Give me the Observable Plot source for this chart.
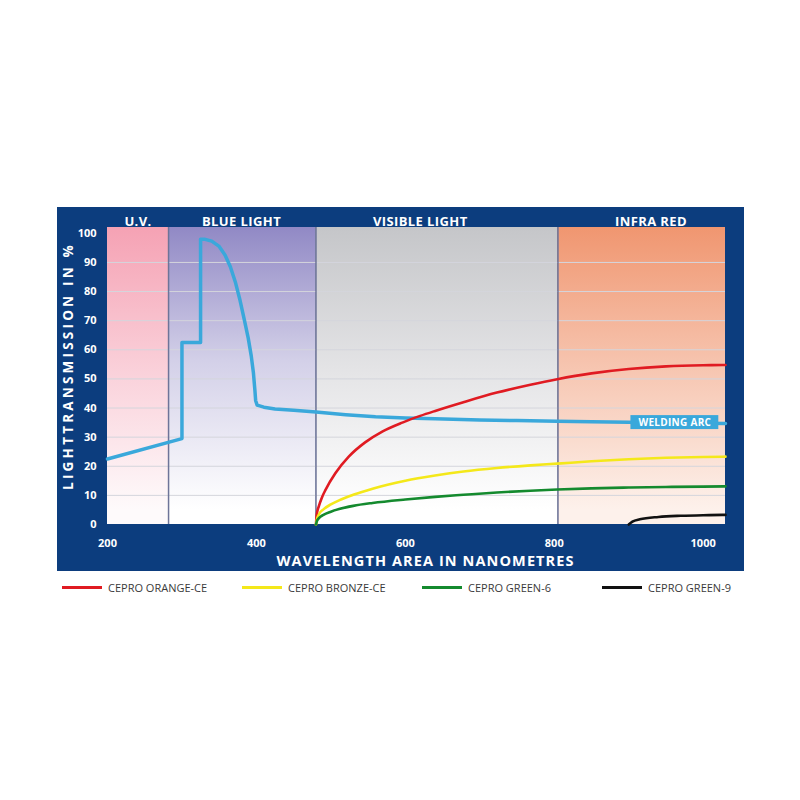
<!DOCTYPE html>
<html>
<head>
<meta charset="utf-8">
<script src="https://cdn.jsdelivr.net/npm/d3@7"></script>
<script src="https://cdn.jsdelivr.net/npm/@observablehq/plot@0.6"></script>
<style>
  html, body { margin: 0; padding: 0; background: #ffffff; width: 800px; height: 800px; overflow: hidden; }
  #frame { position: absolute; left: 57px; top: 207px; width: 687px; height: 364px; background: #0c3d7e; }
  #legend { position: absolute; left: 62px; top: 578px; width: 720px; height: 18px; display: flex;
            font-family: "Open Sans", sans-serif; font-size: 11px; color: #3a3a3a; }
  .item { width: 183px; display: flex; align-items: center; white-space: nowrap; }
  .sw { width: 40px; height: 3px; margin-right: 6px; }
</style>
</head>
<body>
<div id="frame"></div>
<div id="legend"></div>
<script>
// ---- data ----
const headerLabels = ["U.V.", "BLUE LIGHT", "VISIBLE LIGHT", "INFRA RED"];
const headerAt = [241, 380, 620, 930];
const bandFrom = [200, 282, 480, 805];
const bandTo = [282, 480, 805, 1030];
const bandTop = ["#f5a2b4", "#9189c5", "#c5c6c9", "#f09670"];
const bandBottom = ["#fefafb", "#ffffff", "#ffffff", "#fdf1eb"];
const boundaries = [282, 480, 805];
const yTicks = [0, 10, 20, 30, 40, 50, 60, 70, 80, 90, 100];
const xTicks = [200, 400, 600, 800, 1000];
const yTitle = "LIGHTTRANSMISSION IN %";
const xTitle = "WAVELENGTH AREA IN NANOMETRES";

const arcWave = [200, 300, 300, 325, 325, 330, 340, 350, 358, 365, 372, 378, 384, 389, 393, 396, 398, 399, 401, 410, 425, 450, 480, 520, 560, 600, 640, 700, 750, 804, 850, 900, 950, 1000, 1030];
const arcValue = [22.5, 29.5, 62.5, 62.5, 98, 98, 97.3, 95.5, 92.5, 88.5, 83, 77, 70, 64, 58, 52, 46, 42.5, 41, 40.3, 39.7, 39.2, 38.6, 37.7, 37.0, 36.6, 36.3, 35.9, 35.7, 35.5, 35.3, 35.1, 34.9, 34.8, 34.7];

const orangeWave = [480, 481, 484, 488, 493, 506, 524, 546, 569, 596, 620, 640, 678, 723, 768, 804, 850, 900, 950, 1000, 1030];
const orangeValue = [0, 3.4, 6.4, 9.3, 12, 17.6, 23.3, 28.2, 31.9, 35.0, 37.3, 39.0, 42.0, 45.3, 48.0, 49.9, 51.9, 53.4, 54.3, 54.7, 54.8];

const bronzeWave = [480, 481, 484, 490, 500, 511, 530, 556, 600, 640, 678, 723, 768, 804, 850, 900, 950, 1000, 1030];
const bronzeValue = [0, 1.5, 3.5, 5.2, 6.9, 8.3, 10.2, 12.3, 15, 16.8, 18.2, 19.4, 20.3, 20.9, 21.7, 22.4, 22.9, 23.2, 23.3];

const green6Wave = [480, 481, 484, 490, 500, 511, 530, 556, 600, 640, 678, 723, 768, 804, 850, 900, 950, 1000, 1030];
const green6Value = [0, 1, 2.2, 3.3, 4.4, 5.3, 6.4, 7.4, 8.6, 9.5, 10.2, 11.0, 11.6, 12.0, 12.4, 12.7, 12.9, 13.0, 13.1];

const green9Wave = [900, 905, 915, 940, 970, 1000, 1030];
const green9Value = [0, 1, 1.8, 2.6, 3, 3.2, 3.3];

const seriesNames = ["CEPRO ORANGE-CE", "CEPRO BRONZE-CE", "CEPRO GREEN-6", "CEPRO GREEN-9"];
const seriesColors = ["#e01b22", "#f4e81a", "#148a2e", "#111111"];
const arcColor = "#3aa8db";
const arcLabel = [{text: "WELDING ARC", from: 903, to: 1021, low: 32.6, high: 37.4, at: 962, value: 35}];

// ---- build tables ----
const zip = (w, v) => w.map((x, i) => ({x, y: v[i]}));
const arc = zip(arcWave, arcValue);
const filters = [zip(orangeWave, orangeValue), zip(bronzeWave, bronzeValue), zip(green6Wave, green6Value), zip(green9Wave, green9Value)];
const bands = bandFrom.map((f, i) => ({x1: f, x2: bandTo[i], i}));
const headers = headerLabels.map((t, i) => ({t, x: headerAt[i]}));

const defs = () => {
  const d = d3.create("svg:defs");
  bandTop.forEach((c, i) => {
    const g = d.append("linearGradient").attr("id", "band" + i).attr("x1", 0).attr("y1", 0).attr("x2", 0).attr("y2", 1);
    g.append("stop").attr("offset", "0%").attr("stop-color", c);
    g.append("stop").attr("offset", i === 1 ? "45%" : "50%").attr("stop-color", d3.interpolateRgb(c, bandBottom[i])(i === 1 ? 0.6 : 0.55));
    g.append("stop").attr("offset", "95%").attr("stop-color", bandBottom[i]);
  });
  return d.node();
};

const chart = Plot.plot({
  width: 687,
  height: 364,
  marginLeft: 50,
  marginRight: 19,
  marginTop: 20,
  marginBottom: 47,
  style: {background: "transparent", color: "#ffffff", fontFamily: "'Open Sans', sans-serif", fontSize: "11px", fontWeight: "700"},
  x: {domain: [200, 1030], ticks: xTicks, tickFormat: d => String(d), tickSize: 0, tickPadding: 15, label: null},
  y: {domain: [0, 102], ticks: yTicks, tickSize: 0, tickPadding: 11, label: null},
  marks: [
    defs,
    ...bands.map(b => Plot.rect([b], {x1: "x1", x2: "x2", y1: 0, y2: 102, fill: `url(#band${b.i})`})),
    Plot.ruleY(yTicks.filter(t => t > 0 && t < 100), {stroke: "#d4d5dc", strokeWidth: 1}),
    Plot.ruleX(boundaries, {stroke: "#6e7498", strokeWidth: 1.5}),
    Plot.line(arc, {x: "x", y: "y", stroke: arcColor, strokeWidth: 3.5, strokeLinejoin: "round"}),
    ...filters.map((f, i) => Plot.line(f, {x: "x", y: "y", stroke: seriesColors[i], strokeWidth: 2.6, curve: "monotone-x"})),
    Plot.rect(arcLabel, {x1: "from", x2: "to", y1: "low", y2: "high", fill: arcColor}),
    Plot.text(arcLabel, {x: "at", y: "value", text: "text", fill: "#ffffff", fontSize: 10, fontWeight: 700}),
    Plot.text(headers, {x: "x", text: "t", frameAnchor: "top", dy: -11, fill: "#ffffff", fontSize: 13, fontWeight: 700}),
    Plot.text([yTitle], {text: d => d, frameAnchor: "left", rotate: -90, dx: -39, dy: -10, fill: "#ffffff", fontSize: 13.5, fontWeight: 700, textAnchor: "middle"}),
    Plot.text([xTitle], {text: d => d, frameAnchor: "bottom", dy: 41, dx: 9, fill: "#ffffff", fontSize: 14.5, fontWeight: 700})
  ]
});
// letter spacing for titles
const spacing = new Map([[yTitle, "3.2px"], [xTitle, "1.1px"], ["WELDING ARC", "0.3px"]]);
headerLabels.forEach(h => spacing.set(h, "0.4px"));
d3.select(chart).selectAll("text").each(function() {
  const s = spacing.get(this.textContent);
  if (s) this.style.letterSpacing = s;
});
document.getElementById("frame").appendChild(chart);

// legend
const legend = document.getElementById("legend");
seriesNames.forEach((n, i) => {
  const it = document.createElement("div");
  it.className = "item";
  const sw = document.createElement("div");
  sw.className = "sw";
  sw.style.background = seriesColors[i];
  const tx = document.createElement("span");
  tx.textContent = n;
  it.appendChild(sw); it.appendChild(tx);
  legend.appendChild(it);
});
</script>
</body>
</html>
